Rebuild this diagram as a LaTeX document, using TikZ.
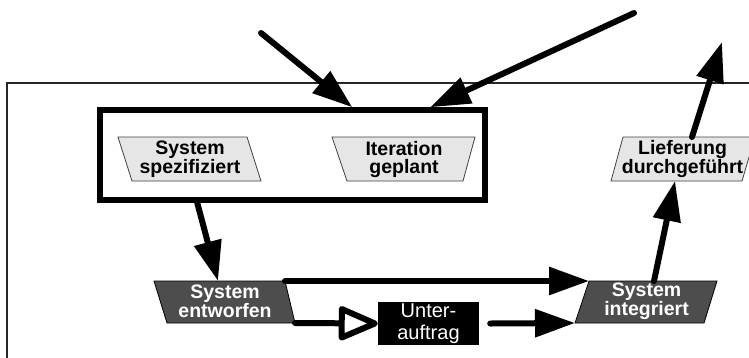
\documentclass[tikz,border=0pt]{standalone}
\usepackage{fontspec}
\setmainfont{Liberation Sans}
\usetikzlibrary{arrows.meta}
\definecolor{palefill}{HTML}{E6E6E6}
\definecolor{darkfill}{HTML}{4D4D4D}
\begin{document}
\begin{tikzpicture}[x=1pt,y=-1pt,
  flow/.style={line width=6pt, line cap=round, -{Triangle[length=40pt,width=27pt]}},
  hollowflow/.style={line width=6pt, line cap=round, -{Triangle[open,round,fill=white,length=44pt,width=36pt]}},
  palebox/.style={fill=palefill, draw=black!75, line width=0.8pt},
  darkbox/.style={fill=darkfill, draw=black, line width=0.8pt},
  statelabel/.style={font=\bfseries\fontsize{19.5}{18}\selectfont, align=center, inner sep=0pt},
  darklabel/.style={statelabel, text=white},
]
\useasboundingbox (0,0) rectangle (749,357);

% outer frame (open to the right and bottom)
\draw[line width=1.2pt, black!85] (7,362) -- (7,83) -- (754,83);

% planning phase
\node[draw, line width=5.5pt, minimum width=385pt, minimum height=90pt, inner sep=0pt] (plan) at (292.5,155) {};

% states
\filldraw[palebox] (118,137) -- (247,137) -- (261,181) -- (132,181) -- cycle;
\node[statelabel] (spez) at (190,159) {System\\spezifiziert};

\filldraw[palebox] (332,137) -- (475,137) -- (463,181) -- (347,181) -- cycle;
\node[statelabel] (iter) at (404,159) {Iteration\\geplant};

\filldraw[palebox] (623,137) -- (692,137) coordinate (lief-out) -- (755,137) -- (742,181)
  -- (675,181) coordinate (lief-in) -- (611,181) -- cycle;
\node[statelabel] (lief) at (682.5,159) {Lieferung\\durchgeführt};

\filldraw[darkbox] (154,281) -- (218,281) coordinate (entw-in) -- (285,281) coordinate (entw-ne)
  -- (295,323) coordinate (entw-se) -- (167,323) -- cycle;
\node[darklabel] (entw) at (225,301) {System\\entworfen};

\filldraw[darkbox] (589,281) coordinate (integ-nw) -- (654,281) coordinate (integ-out) -- (717,281)
  -- (704,323) -- (575,323) coordinate (integ-sw) -- cycle;
\node[darklabel] (integ) at (646.5,301) {System\\integriert};

\node[fill=black, text=white, minimum width=101pt, minimum height=43pt, inner sep=0pt,
  align=center, font=\fontsize{20}{22}\selectfont] (unter) at (428.5,323.5) {Unter-\\auftrag};

% free ends
\coordinate (src1) at (261,33);
\coordinate (src2) at (634,13);
\coordinate (sink) at (722,42);

% connectors
\draw[flow] (src1) -- ([xshift=255pt]plan.north west);
\draw[flow] (src2) -- ([xshift=333pt]plan.north west);
\draw[flow] ([xshift=100pt]plan.south west) -- (entw-in);
\draw[flow] (entw-ne) -- (integ-nw);
\draw[hollowflow] (entw-se) -- (unter.west);
\draw[flow] ([xshift=11pt]unter.east) -- (integ-sw);
\draw[flow] (integ-out) -- (lief-in);
\draw[flow] (lief-out) -- (sink);
\end{tikzpicture}
\end{document}
